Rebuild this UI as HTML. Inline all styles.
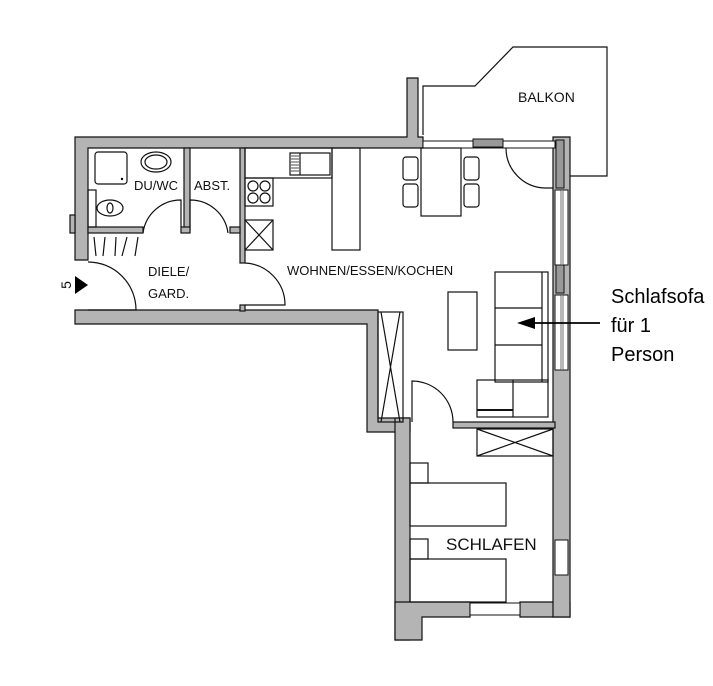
<!DOCTYPE html>
<html><head><meta charset="utf-8"><style>
html,body{margin:0;padding:0;background:#fff;width:713px;height:686px;overflow:hidden}
svg{display:block}
.w{fill:#b4b4b4;stroke:#111;stroke-width:1.2}
.f{fill:none;stroke:#111;stroke-width:1.2}
.t{font-family:"Liberation Sans",sans-serif;font-size:13px;fill:#111}
.c{font-family:'Liberation Sans',sans-serif;font-size:20px}
</style></head><body>
<svg width="713" height="686" viewBox="0 0 713 686" xmlns="http://www.w3.org/2000/svg">
<polyline class="f" points="423,135 423,86 475,86 513,47 607,47 607,176 570,176"/>
<text class="t" x="518" y="102" style="font-size:14px">BALKON</text>
<path class="w" d="M407,78 H418 V137 H423 V148 H88 V260 H75 V137 H407 Z"/>
<rect class="w" x="70" y="215" width="5" height="18"/>
<path class="w" d="M75,310 H378 V418 H410 V432 H367 V324 H75 Z"/>
<rect class="w" x="395" y="418" width="15" height="222"/>
<path class="w" d="M395,602 H470 V617 H422 V640 H395 Z"/>
<path class="w" d="M520,602 H570 V617 H520 Z"/>
<path class="w" d="M553,137 H570 V617 H553 Z"/>
<rect x="555" y="190" width="13" height="75" fill="#fff" stroke="#111"/>
<rect x="555" y="295" width="13" height="75" fill="#fff" stroke="#111"/>
<rect x="555" y="540" width="13" height="35" fill="#fff" stroke="#111"/>
<rect x="556" y="140" width="8" height="48" fill="#999" stroke="#111"/>
<rect x="556" y="265" width="8" height="28" fill="#999" stroke="#111"/>
<rect x="561" y="190" width="2" height="75" fill="#fff" stroke="#111" stroke-width=".6"/>
<rect x="561" y="295" width="2" height="75" fill="#fff" stroke="#111" stroke-width=".6"/>
<rect x="423" y="141" width="132" height="7" fill="#fff" stroke="#111"/>
<rect x="473" y="139" width="30" height="8" fill="#999" stroke="#111"/>
<path class="f" d="M506,148 A40,40 0 0 0 545,188 H553"/>
<rect class="w" x="453" y="422" width="102" height="6"/>
<rect x="470" y="603" width="50" height="12" fill="#fff" stroke="#111"/>
<rect class="w" x="184" y="148" width="6" height="82"/>
<rect class="w" x="240" y="148" width="5" height="115"/>
<rect class="w" x="240" y="305" width="5" height="6"/>
<rect class="w" x="88" y="227" width="55" height="6"/>
<rect class="w" x="181" y="227" width="9" height="6"/>
<rect class="w" x="230" y="227" width="10" height="6"/>
<path class="f" d="M181,227 V200 A38,38 0 0 0 143,233"/>
<path class="f" d="M190,227 V200 A38,38 0 0 1 228,233"/>
<path class="f" d="M88,262 A48,48 0 0 1 136,310 H88"/>
<path class="f" d="M245,263 A42,42 0 0 1 285,305 H245"/>
<path class="f" d="M412,422 V381 A41,41 0 0 1 453,422"/>
<polygon points="75,276 88,285 75,294" fill="#000"/>
<text class="t" x="0" y="0" transform="translate(71,285) rotate(-90)" text-anchor="middle" style="font-size:14px">5</text>
<rect class="f" x="95" y="152" width="32" height="32" rx="3"/>
<circle cx="122" cy="179" r="1.2"/>
<ellipse class="f" cx="156" cy="162" rx="15" ry="10"/>
<ellipse class="f" cx="156" cy="162" rx="11" ry="7"/>
<rect class="f" x="88" y="190" width="8" height="37"/>
<ellipse class="f" cx="110" cy="208" rx="13" ry="8"/>
<ellipse class="f" cx="110" cy="208" rx="3" ry="5"/>
<text class="t" x="134" y="190">DU/WC</text>
<text class="t" x="194" y="190">ABST.</text>
<path class="f" d="M94,237 L96,256 M105,237 L103,256 M116,237 L115,256 M127,237 L122,256 M138,237 L135,256" stroke-width="1"/>
<text class="t" x="148" y="276">DIELE/</text>
<text class="t" x="148" y="298">GARD.</text>
<rect class="f" x="245" y="148" width="87" height="30"/>
<rect class="f" x="332" y="148" width="28" height="102"/>
<rect class="f" x="290" y="153" width="40" height="22"/>
<line class="f" x1="300" y1="153" x2="300" y2="175"/>
<path d="M291,156H299M291,159H299M291,162H299M291,165H299M291,168H299M291,171H299" stroke="#111" stroke-width=".8"/>
<rect class="f" x="245" y="178" width="28" height="28"/>
<circle class="f" cx="253" cy="186" r="5"/><circle class="f" cx="265" cy="186" r="5"/>
<circle class="f" cx="253" cy="198" r="5"/><circle class="f" cx="265" cy="198" r="5"/>
<rect class="f" x="245" y="220" width="28" height="30"/>
<path class="f" d="M245,220 L273,250 M273,220 L245,250"/>
<text class="t" x="287" y="275">WOHNEN/ESSEN/KOCHEN</text>
<rect class="f" x="421" y="148" width="40" height="68"/>
<rect class="f" x="403" y="157" width="15" height="23" rx="3"/>
<rect class="f" x="403" y="184" width="15" height="23" rx="3"/>
<rect class="f" x="464" y="157" width="15" height="23" rx="3"/>
<rect class="f" x="464" y="184" width="15" height="23" rx="3"/>
<rect class="f" x="448" y="292" width="29" height="58"/>
<rect class="f" x="495" y="272" width="53" height="110"/>
<line class="f" x1="542" y1="272" x2="542" y2="382"/>
<line class="f" x1="495" y1="308" x2="542" y2="308"/>
<line class="f" x1="495" y1="345" x2="542" y2="345"/>
<rect class="f" x="477" y="380" width="71" height="37"/>
<line class="f" x1="513" y1="380" x2="513" y2="417"/>
<line x1="477" y1="410" x2="513" y2="410" stroke="#111" stroke-width="2"/>
<rect class="f" x="378" y="312" width="25" height="110"/>
<path class="f" d="M381,312 L400,422 M400,312 L381,422"/>
<line x1="600" y1="323" x2="530" y2="323" stroke="#000" stroke-width="1.8"/>
<polygon points="517,323 535,317 535,329" fill="#000"/>
<text class="c" x="611" y="303" fill="#000">Schlafsofa</text>
<text class="c" x="611" y="332" fill="#000">für 1</text>
<text class="c" x="611" y="361" fill="#000">Person</text>
<rect class="f" x="477" y="429" width="76" height="27"/>
<path class="f" d="M477,429 L553,456 M553,429 L477,456"/>
<rect class="f" x="410" y="463" width="18" height="20"/>
<rect class="f" x="410" y="483" width="96" height="43"/>
<rect class="f" x="410" y="539" width="18" height="20"/>
<rect class="f" x="410" y="559" width="96" height="43"/>
<text class="t" x="446" y="550" style="font-size:17px">SCHLAFEN</text>
</svg>
</body></html>
